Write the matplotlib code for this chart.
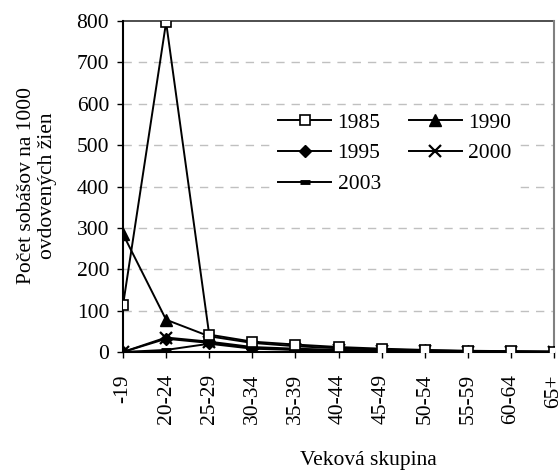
import matplotlib
matplotlib.use("Agg")
import matplotlib.pyplot as plt

# age groups and rates per 1000 widowed women
groups = ["-19", "20-24", "25-29", "30-34", "35-39", "40-44",
          "45-49", "50-54", "55-59", "60-64", "65+"]
y1985 = [113, 797, 42, 25, 18, 12, 8, 5, 3, 2, 1]
y1990 = [285, 78, 38, 22, 14, 9, 6, 4, 2, 1, 1]
y1995 = [0, 32, 22, 10, 6, 4, 3, 2, 1, 1, 0]
y2000 = [0, 35, 25, 12, 8, 5, 3, 2, 1, 1, 0]
y2003 = [0, 5, 20, 8, 5, 3, 2, 1, 1, 0, 0]
yticks = [0, 100, 200, 300, 400, 500, 600, 700, 800]

plt.rcParams['font.family'] = ['Liberation Serif', 'DejaVu Serif']
fs = 15.5

fig = plt.figure(figsize=(5.58, 4.71), dpi=100)
ax = fig.add_axes([123/558, 1 - 352/471, (554 - 123)/558, (352 - 21)/471])

x = list(range(len(groups)))
lw = 1.4
h85, = ax.plot(x, y1985, color='black', lw=lw, marker='s', ms=7.5, mfc='white',
               mec='black', mew=1.2, label='1985', zorder=5)
h90, = ax.plot(x, y1990, color='black', lw=lw, marker='^', ms=9, mfc='black',
               mec='black', label='1990', zorder=4)
h95, = ax.plot(x, y1995, color='black', lw=lw, marker='D', ms=6.5, mfc='black',
               mec='black', label='1995', zorder=4)
h00, = ax.plot(x, y2000, color='black', lw=lw, marker='x', ms=8, mew=1.6,
               mec='black', label='2000', zorder=4)
h03, = ax.plot(x, y2003, color='black', lw=lw, marker='_', ms=7, mew=3.5,
               mec='black', label='2003', zorder=4)

ax.set_xlim(0, 10)
ax.set_ylim(0, 800)
ax.set_yticks(yticks)
ax.set_yticklabels([str(v) for v in yticks], fontsize=fs)
ax.set_xticks(x)
ax.set_xticklabels(groups, rotation=90, fontsize=fs, va='top', ha='center')
ax.tick_params(axis='y', length=4, width=1, pad=6, direction='out')
ax.tick_params(axis='x', length=4, width=1, pad=12, direction='out')

# gridlines
for v in yticks[1:-1]:
    ax.axhline(v, color='#c0c0c0', lw=1, ls=(0, (6, 5)), zorder=0)
ax.axhline(800, color='#404040', lw=1.3, zorder=1, clip_on=False)

ax.spines['top'].set_visible(False)
ax.spines['right'].set_color('#808080')
ax.spines['right'].set_linewidth(1.5)
ax.spines['left'].set_linewidth(1.5)
ax.spines['bottom'].set_linewidth(1.5)

# row-major legend order like the original
handles = [h85, h95, h03, h90, h00]
leg = ax.legend(handles=handles, labels=[h.get_label() for h in handles],
                ncol=2, loc='upper left', bbox_to_anchor=(272/558, 1 - 106/471),
                bbox_transform=fig.transFigure, fontsize=fs, frameon=True,
                handlelength=2.45, handletextpad=0.3, columnspacing=1.3,
                labelspacing=0.5, borderpad=0.3, borderaxespad=0)
leg.get_frame().set_facecolor('white')
leg.get_frame().set_edgecolor('none')
leg.get_frame().set_alpha(1)

fig.text(37/558, 1 - 186/471, "Počet sobášov na 1000\novdovených žien",
         rotation=90, ha='center', va='center', fontsize=fs, linespacing=1.15)
fig.text(368/558, 1 - 461/471, "Veková skupina", ha='center', va='center',
         fontsize=fs)

fig.savefig("out.png", dpi=100)
